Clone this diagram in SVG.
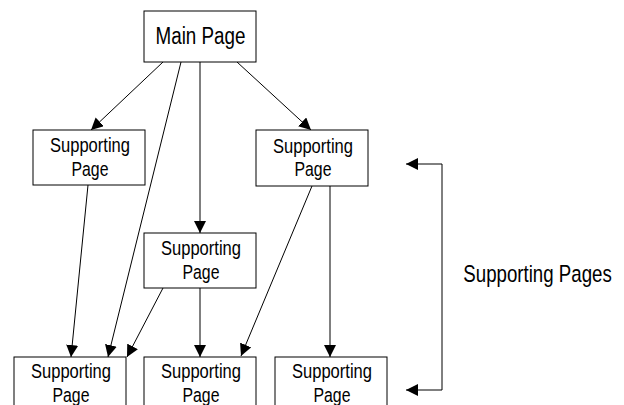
<svg xmlns="http://www.w3.org/2000/svg" width="624" height="405" viewBox="0 0 624 405">
<style>
.box{fill:#fff;stroke:#000;stroke-width:1}
.t{font-family:"Liberation Sans",Arial,sans-serif;font-size:20.5px;text-anchor:middle;fill:#000}
.big{font-size:23.5px}
.c{fill:none;stroke:#000;stroke-width:1}
</style>
<defs>
<marker id="ah" markerUnits="userSpaceOnUse" markerWidth="12" markerHeight="12" refX="12" refY="6" orient="auto">
<path d="M0,0 L12,6 L0,12 z" fill="#000"/>
</marker>
</defs>
<rect width="624" height="405" fill="#fff"/>
<g id="connectors">
<line class="c" x1="163" y1="62" x2="91" y2="130" marker-end="url(#ah)"/>
<line class="c" x1="181" y1="62" x2="108" y2="357" marker-end="url(#ah)"/>
<line class="c" x1="200" y1="62" x2="200" y2="233" marker-end="url(#ah)"/>
<line class="c" x1="237" y1="62" x2="311" y2="130" marker-end="url(#ah)"/>
<line class="c" x1="88" y1="185" x2="71" y2="357" marker-end="url(#ah)"/>
<line class="c" x1="163" y1="288" x2="127" y2="357" marker-end="url(#ah)"/>
<line class="c" x1="200" y1="288" x2="200" y2="357" marker-end="url(#ah)"/>
<line class="c" x1="312" y1="186" x2="241" y2="356" marker-end="url(#ah)"/>
<line class="c" x1="330" y1="186" x2="330" y2="357" marker-end="url(#ah)"/>
<path class="c" d="M442,164 L442,390" />
<line class="c" x1="442" y1="164" x2="406" y2="164" marker-end="url(#ah)"/>
<line class="c" x1="442" y1="390" x2="406" y2="390" marker-end="url(#ah)"/>
</g>
<g id="main">
<rect class="box" x="144" y="11" width="112" height="51"/>
<text class="t big" x="200.5" y="43.5" textLength="90" lengthAdjust="spacingAndGlyphs">Main Page</text>
</g>
<g id="sp-left">
<rect class="box" x="33" y="130" width="112" height="55"/>
<text class="t" x="90" y="152" textLength="80" lengthAdjust="spacingAndGlyphs">Supporting</text>
<text class="t" x="90" y="176" textLength="37" lengthAdjust="spacingAndGlyphs">Page</text>
</g>
<g id="sp-right">
<rect class="box" x="256" y="130" width="112" height="56"/>
<text class="t" x="313" y="153" textLength="80" lengthAdjust="spacingAndGlyphs">Supporting</text>
<text class="t" x="313" y="176" textLength="37" lengthAdjust="spacingAndGlyphs">Page</text>
</g>
<g id="sp-middle">
<rect class="box" x="144" y="233" width="112" height="55"/>
<text class="t" x="201" y="255" textLength="80" lengthAdjust="spacingAndGlyphs">Supporting</text>
<text class="t" x="201" y="279" textLength="37" lengthAdjust="spacingAndGlyphs">Page</text>
</g>
<g id="sp-bottom-left">
<rect class="box" x="14" y="357" width="112" height="56"/>
<text class="t" x="71" y="378" textLength="80" lengthAdjust="spacingAndGlyphs">Supporting</text>
<text class="t" x="71" y="402" textLength="37" lengthAdjust="spacingAndGlyphs">Page</text>
</g>
<g id="sp-bottom-middle">
<rect class="box" x="144" y="357" width="112" height="56"/>
<text class="t" x="201" y="378" textLength="80" lengthAdjust="spacingAndGlyphs">Supporting</text>
<text class="t" x="201" y="402" textLength="37" lengthAdjust="spacingAndGlyphs">Page</text>
</g>
<g id="sp-bottom-right">
<rect class="box" x="275" y="357" width="112" height="56"/>
<text class="t" x="332" y="378" textLength="80" lengthAdjust="spacingAndGlyphs">Supporting</text>
<text class="t" x="332" y="402" textLength="37" lengthAdjust="spacingAndGlyphs">Page</text>
</g>
<g id="label">
<text class="t big" style="text-anchor:start" transform="translate(463.3,281.5) scale(0.795,1)">Supporting Pages</text>
</g>
</svg>
